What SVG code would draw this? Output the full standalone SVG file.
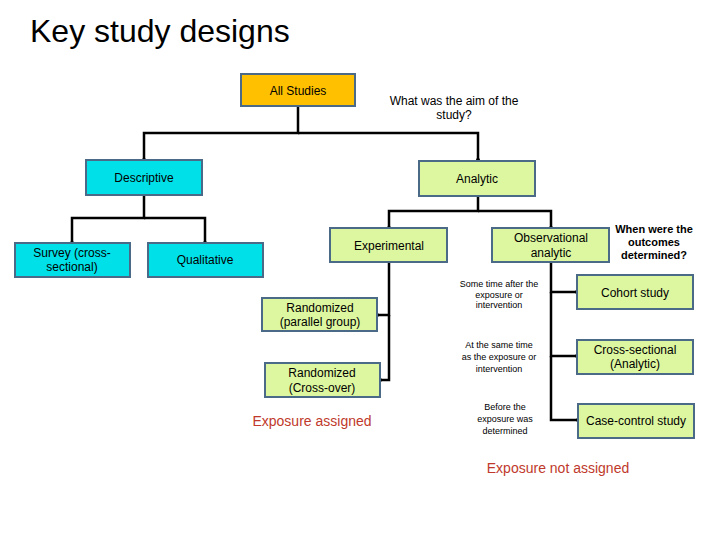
<svg xmlns="http://www.w3.org/2000/svg" width="720" height="540" viewBox="0 0 720 540">
<style>
text{font-family:"Liberation Sans",Arial,sans-serif;fill:#000;text-anchor:middle}
.b{stroke:#4a6a88;stroke-width:2}
.o{fill:#FFC000}.c{fill:#00E0E8}.g{fill:#DDF7A0}
.t{font-size:12px}
.s{font-size:9px}
.r{fill:#C0392B;font-size:14px}
#conn path{fill:none;stroke:#000;stroke-width:2.5}
</style>
<defs><marker id="d" markerWidth="4" markerHeight="4" refX="2" refY="2" markerUnits="userSpaceOnUse"><circle cx="2" cy="2" r="2" fill="#000"/></marker></defs>
<rect width="720" height="540" fill="#fff"/>
<text x="30" y="42" style="font-size:32px;text-anchor:start">Key study designs</text>
<g id="conn">
<path d="M298 106V133H144V160" marker-end="url(#d)"/>
<path d="M298 133H478V160" marker-end="url(#d)"/>
<path d="M144 195V218H72V243" marker-end="url(#d)"/>
<path d="M144 218H205V243" marker-end="url(#d)"/>
<path d="M478 196V211H389V228" marker-end="url(#d)"/>
<path d="M478 211H551V228" marker-end="url(#d)"/>
<path d="M389 262V315H377" marker-end="url(#d)"/>
<path d="M389 315V380H380" marker-end="url(#d)"/>
<path d="M551 262V292H577" marker-end="url(#d)"/>
<path d="M551 292V356H577" marker-end="url(#d)"/>
<path d="M551 356V420H578" marker-end="url(#d)"/>
</g>
<g id="all"><rect class="b o" x="241" y="74" width="114" height="32"/><text class="t" x="298" y="95">All Studies</text></g>
<g id="descriptive"><rect class="b c" x="86" y="160" width="116" height="35"/><text class="t" x="144" y="182">Descriptive</text></g>
<g id="analytic"><rect class="b g" x="419" y="161" width="116" height="35"/><text class="t" x="477" y="183">Analytic</text></g>
<g id="survey"><rect class="b c" x="15" y="243" width="115" height="34"/><text class="t" x="72" y="257">Survey (cross-</text><text class="t" x="72" y="271">sectional)</text></g>
<g id="qualitative"><rect class="b c" x="148" y="243" width="115" height="34"/><text class="t" x="205" y="264">Qualitative</text></g>
<g id="experimental"><rect class="b g" x="330" y="228" width="117" height="34"/><text class="t" x="389" y="250">Experimental</text></g>
<g id="observational"><rect class="b g" x="492" y="228" width="117" height="34"/><text class="t" x="551" y="242">Observational</text><text class="t" x="551" y="257">analytic</text></g>
<g id="parallel"><rect class="b g" x="262" y="298" width="115" height="33"/><text class="t" x="320" y="312">Randomized</text><text class="t" x="320" y="326">(parallel group)</text></g>
<g id="crossover"><rect class="b g" x="265" y="363" width="115" height="34"/><text class="t" x="322" y="377">Randomized</text><text class="t" x="322" y="392">(Cross-over)</text></g>
<g id="cohort"><rect class="b g" x="577" y="275" width="116" height="34"/><text class="t" x="635" y="297">Cohort study</text></g>
<g id="crosssec"><rect class="b g" x="577" y="340" width="116" height="34"/><text class="t" x="635" y="354">Cross-sectional</text><text class="t" x="635" y="368">(Analytic)</text></g>
<g id="casecontrol"><rect class="b g" x="578" y="404" width="116" height="34"/><text class="t" x="636" y="425">Case-control study</text></g>
<text class="t" x="454" y="105">What was the aim of the</text>
<text class="t" x="454" y="119">study?</text>
<g style="font-weight:bold;font-size:11px"><text x="654" y="233">When were the</text><text x="654" y="246">outcomes</text><text x="654" y="259">determined?</text></g>
<g class="s"><text class="s" x="499" y="287">Some time after the</text><text class="s" x="499" y="298">exposure or</text><text class="s" x="499" y="308">intervention</text>
<text class="s" x="499" y="348">At the same time</text><text class="s" x="499" y="360">as the exposure or</text><text class="s" x="499" y="372">intervention</text>
<text class="s" x="505" y="410">Before the</text><text class="s" x="505" y="422">exposure was</text><text class="s" x="505" y="434">determined</text></g>
<text class="r" x="312" y="426">Exposure assigned</text>
<text class="r" x="558" y="473">Exposure  not assigned</text>
</svg>
